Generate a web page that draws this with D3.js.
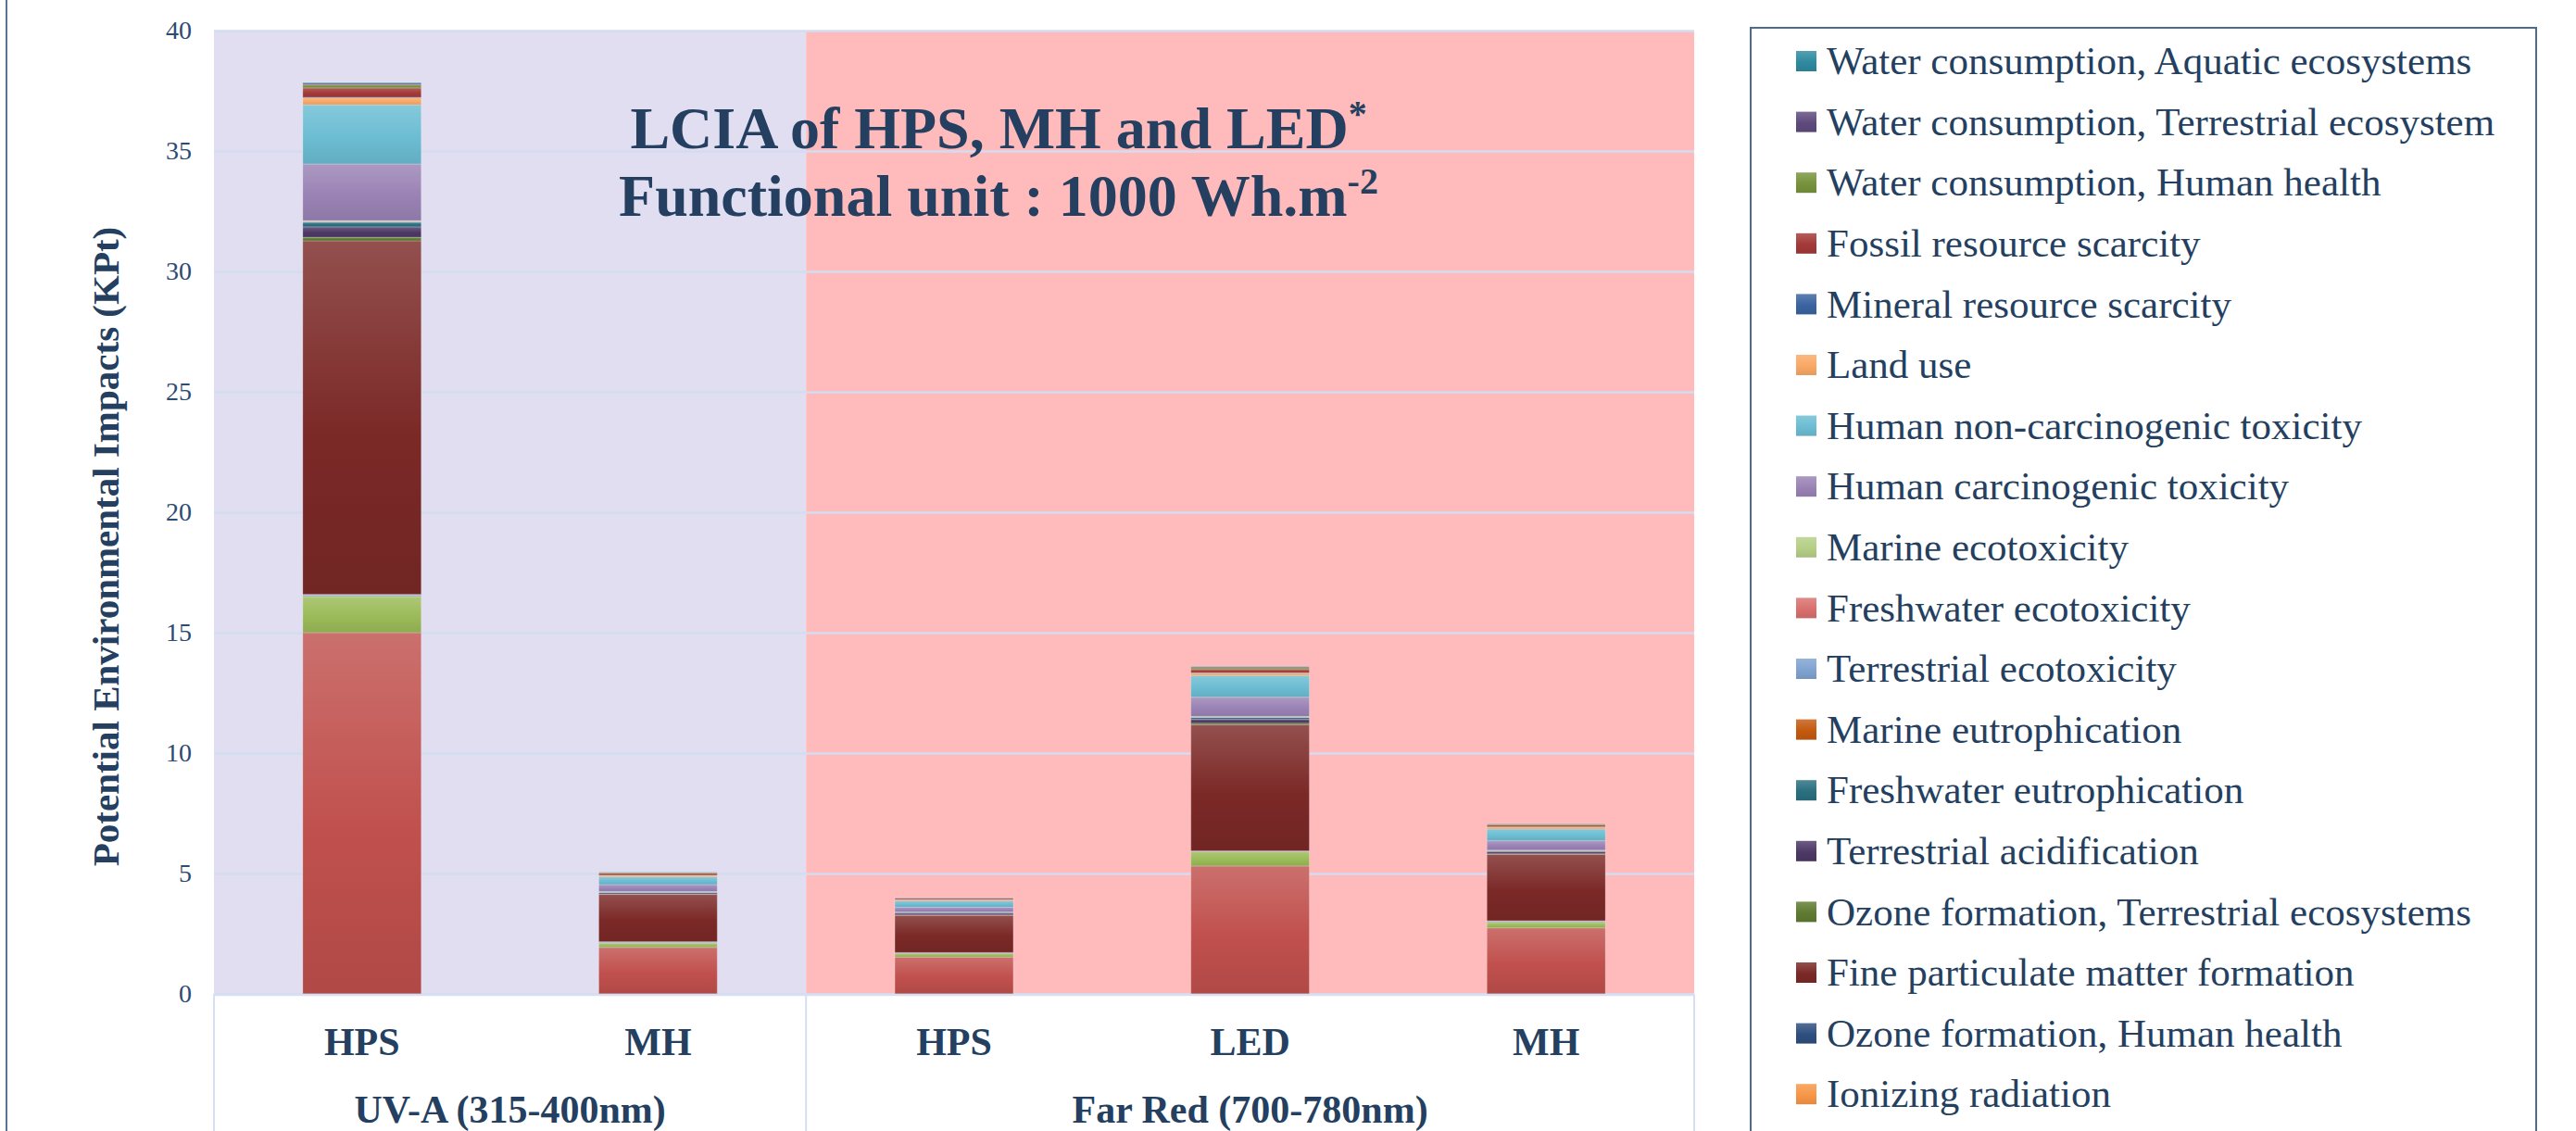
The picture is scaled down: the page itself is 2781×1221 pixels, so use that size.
<!DOCTYPE html>
<html>
<head>
<meta charset="utf-8">
<script src="https://cdn.jsdelivr.net/npm/d3@7"></script>
<style>
  body { margin: 0; background: #fff; }
  text { font-family: "Liberation Serif", "Times New Roman", serif; }
</style>
</head>
<body>
<svg id="chart" width="2781" height="1221"></svg>
<script>
var width = 2781, height = 1221;

var categories = ["HPS", "MH", "HPS", "LED", "MH"];
var groups = ["UV-A (315-400nm)", "Far Red (700-780nm)"];
var groupOf = [0, 0, 1, 1, 1];

// stack order, bottom -> top (legend lists them reversed)
var seriesNames = [
  "Global warming, Human health",
  "Global warming, Terrestrial ecosystems",
  "Global warming, Freshwater ecosystems",
  "Stratospheric ozone depletion",
  "Ionizing radiation",
  "Ozone formation, Human health",
  "Fine particulate matter formation",
  "Ozone formation, Terrestrial ecosystems",
  "Terrestrial acidification",
  "Freshwater eutrophication",
  "Marine eutrophication",
  "Terrestrial ecotoxicity",
  "Freshwater ecotoxicity",
  "Marine ecotoxicity",
  "Human carcinogenic toxicity",
  "Human non-carcinogenic toxicity",
  "Land use",
  "Mineral resource scarcity",
  "Fossil resource scarcity",
  "Water consumption, Human health",
  "Water consumption, Terrestrial ecosystem",
  "Water consumption, Aquatic ecosystems"
];

var seriesColors = [
  "#C0504D", "#9BBB59", "#8064A2", "#4BACC6", "#F79646", "#2E4F7F",
  "#7B2927", "#5F7B30", "#4D3866", "#2A6F80", "#C45A10", "#7FA3D1",
  "#D9706E", "#B5CF86", "#9A83B5", "#6CBDD3", "#F9A865", "#3A64A0",
  "#A33A38", "#77933C", "#5F4A7E", "#2E8AA0"
];

// KPt per series, one value per bar (UV-A HPS, UV-A MH, FR HPS, FR LED, FR MH)
var seriesValues = [
  [15.00, 1.93, 1.53, 5.31, 2.74],
  [1.50, 0.17, 0.15, 0.60, 0.23],
  [0.03, 0.01, 0.01, 0.01, 0.02],
  [0.04, 0.03, 0.02, 0.01, 0.03],
  [0.01, 0.01, 0.00, 0.00, 0.01],
  [0.01, 0.02, 0.01, 0.01, 0.01],
  [14.68, 1.96, 1.54, 5.23, 2.75],
  [0.15, 0.02, 0.02, 0.07, 0.03],
  [0.43, 0.05, 0.07, 0.16, 0.08],
  [0.19, 0.02, 0.03, 0.08, 0.04],
  [0.01, 0.00, 0.00, 0.01, 0.00],
  [0.02, 0.01, 0.01, 0.01, 0.01],
  [0.02, 0.01, 0.00, 0.01, 0.01],
  [0.02, 0.01, 0.01, 0.01, 0.01],
  [2.35, 0.29, 0.20, 0.80, 0.39],
  [2.46, 0.32, 0.26, 0.90, 0.49],
  [0.29, 0.06, 0.05, 0.10, 0.08],
  [0.02, 0.01, 0.01, 0.02, 0.01],
  [0.39, 0.08, 0.05, 0.13, 0.07],
  [0.13, 0.03, 0.01, 0.08, 0.04],
  [0.06, 0.01, 0.01, 0.04, 0.01],
  [0.03, 0.01, 0.00, 0.01, 0.01]
];

var yTicks = [0, 5, 10, 15, 20, 25, 30, 35, 40];

var textColor = "#243F60";
// note: "top" is a reserved window property, so use plot* names
var plotL = 231, plotR = 1829, plotT = 33, plotB = 1073;

var svg = d3.select("#chart");
svg.append("rect").attr("width", width).attr("height", height).attr("fill", "#fff");

// gradients, excel style (light on top, dark at bottom)
var defs = svg.append("defs");
seriesColors.forEach(function(c, i) {
  var g = defs.append("linearGradient").attr("id", "grad" + i)
    .attr("x1", 0).attr("y1", 0).attr("x2", 0).attr("y2", 1);
  g.append("stop").attr("offset", "0%").attr("stop-color", d3.interpolateRgb(c, "#ffffff")(0.18));
  g.append("stop").attr("offset", "55%").attr("stop-color", c);
  g.append("stop").attr("offset", "100%").attr("stop-color", d3.rgb(c).darker(0.25));
});

var idx = categories.map(function(d, i) { return i; });

var x = d3.scaleBand().domain(idx).range([plotL, plotR])
  .paddingInner(0.6).paddingOuter(0.3);
var zone = d3.scaleBand().domain(idx).range([plotL, plotR]);
var y = d3.scaleLinear().domain([0, 40]).range([plotB, plotT]);

function groupSpan(gi) {
  var members = idx.filter(function(i) { return groupOf[i] === gi; });
  return [zone(members[0]), zone(members[members.length - 1]) + zone.bandwidth()];
}

// group backgrounds
var groupBg = ["#E0DEF0", "#FFBBBB"];
groups.forEach(function(gname, gi) {
  var s = groupSpan(gi);
  svg.append("rect")
    .attr("x", s[0]).attr("y", plotT)
    .attr("width", s[1] - s[0]).attr("height", plotB - plotT)
    .attr("fill", groupBg[gi]);
});

// gridlines
svg.append("g")
  .attr("transform", "translate(" + plotL + ",0)")
  .call(d3.axisLeft(y).tickValues(yTicks).tickSize(-(plotR - plotL)).tickFormat(""))
  .call(function(g) { g.select(".domain").remove(); })
  .selectAll("line").attr("stroke", "#D5DCF0").attr("stroke-width", 2.5);

// y axis labels
svg.append("g")
  .attr("transform", "translate(" + plotL + ",0)")
  .call(d3.axisLeft(y).tickValues(yTicks).tickSize(0).tickPadding(24))
  .call(function(g) { g.select(".domain").remove(); })
  .selectAll("text")
  .attr("font-family", "Liberation Serif")
  .attr("font-size", 28)
  .attr("fill", "#2C4A72");

// stacked bars
var table = idx.map(function(i) {
  var row = {};
  seriesNames.forEach(function(s, k) { row[s] = seriesValues[k][i]; });
  return row;
});
var stacked = d3.stack().keys(seriesNames)(table);

svg.append("g").selectAll("g")
  .data(stacked).enter()
  .append("g")
  .attr("fill", function(d, k) { return "url(#grad" + k + ")"; })
  .selectAll("rect")
  .data(function(d) { return d; }).enter()
  .append("rect")
  .attr("x", function(d, i) { return x(i); })
  .attr("width", x.bandwidth())
  .attr("y", function(d) { return y(d[1]); })
  .attr("height", function(d) { return y(d[0]) - y(d[1]); })
  .attr("stroke", "rgba(255,255,255,0.22)")
  .attr("stroke-width", 1);

// category axis box
var axisLine = "#D6E0F2";
svg.append("line").attr("x1", plotL).attr("x2", plotR)
  .attr("y1", plotB + 1).attr("y2", plotB + 1)
  .attr("stroke", axisLine).attr("stroke-width", 2.5);
var seps = [plotL, zone(2), plotR];
svg.selectAll(".sep").data(seps).enter().append("line")
  .attr("x1", function(d) { return d; }).attr("x2", function(d) { return d; })
  .attr("y1", plotB).attr("y2", height)
  .attr("stroke", axisLine).attr("stroke-width", 2);

svg.append("g").selectAll("text")
  .data(categories).enter().append("text")
  .attr("x", function(d, i) { return x(i) + x.bandwidth() / 2; })
  .attr("y", 1139)
  .attr("text-anchor", "middle")
  .attr("font-size", 42).attr("font-weight", "bold")
  .attr("fill", textColor)
  .text(function(d) { return d; });

svg.append("g").selectAll("text")
  .data(groups).enter().append("text")
  .attr("x", function(d, gi) { var s = groupSpan(gi); return (s[0] + s[1]) / 2; })
  .attr("y", 1212)
  .attr("text-anchor", "middle")
  .attr("font-size", 42).attr("font-weight", "bold")
  .attr("fill", textColor)
  .text(function(d) { return d; });

// y axis title
svg.append("text")
  .attr("transform", "translate(128,590) rotate(-90)")
  .attr("text-anchor", "middle")
  .attr("font-size", 41).attr("font-weight", "bold")
  .attr("fill", textColor)
  .text("Potential Environmental Impacts (KPt)");

// title
var t1 = svg.append("text").attr("x", 1078).attr("y", 160)
  .attr("text-anchor", "middle").attr("font-size", 64).attr("font-weight", "bold")
  .attr("fill", textColor);
t1.append("tspan").text("LCIA of HPS, MH and LED");
t1.append("tspan").attr("font-size", 40).attr("dy", -24).text("*");

var t2 = svg.append("text").attr("x", 1078).attr("y", 233)
  .attr("text-anchor", "middle").attr("font-size", 64).attr("font-weight", "bold")
  .attr("fill", textColor);
t2.append("tspan").text("Functional unit : 1000 Wh.m");
t2.append("tspan").attr("font-size", 40).attr("dy", -24).text("-2");

// outer chart border (left edge)
svg.append("line").attr("x1", 7).attr("x2", 7).attr("y1", 0).attr("y2", height)
  .attr("stroke", "#5A7294").attr("stroke-width", 2);

// legend (runs past the bottom of the picture)
var legX = 1890, legY = 30, legW = 848, rowH = 65.6;
svg.append("path")
  .attr("d", "M" + legX + "," + height + "V" + legY + "H" + (legX + legW) + "V" + height)
  .attr("fill", "none").attr("stroke", "#4F6A8F").attr("stroke-width", 2);

var legendItems = seriesNames.map(function(s, k) { return k; }).reverse()
  .filter(function(k, j) { return legY + 36 + j * rowH + 20 < height; });

var leg = svg.append("g").selectAll("g")
  .data(legendItems).enter().append("g")
  .attr("transform", function(k, j) { return "translate(" + (legX + 49) + "," + (legY + 36 + j * rowH) + ")"; });
leg.append("rect")
  .attr("x", 0).attr("y", -11).attr("width", 22).attr("height", 22)
  .attr("fill", function(k) { return "url(#grad" + k + ")"; });
leg.append("text")
  .attr("x", 33).attr("dy", "0.33em")
  .attr("font-size", 43)
  .attr("fill", textColor)
  .text(function(k) { return seriesNames[k]; });
</script>
</body>
</html>
